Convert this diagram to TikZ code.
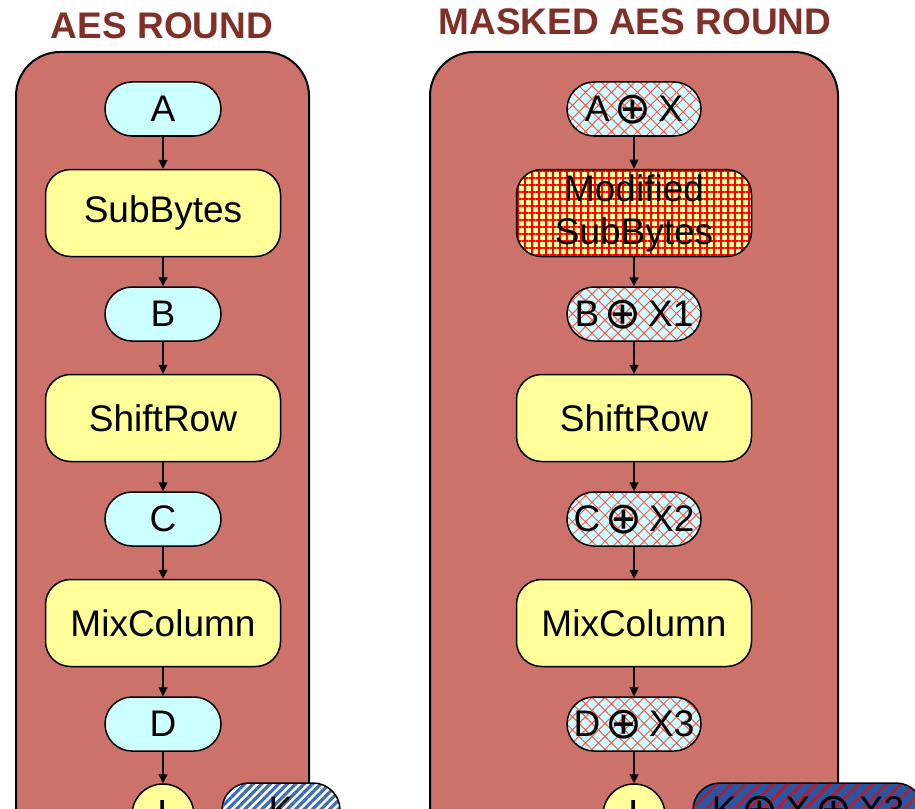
\documentclass[tikz,border=0pt]{standalone}
\usepackage{fontspec}
\setmainfont{Liberation Sans}
\newfontfamily\symfont{DejaVu Sans}
\usetikzlibrary{arrows.meta}
\usetikzlibrary{patterns.meta}

\definecolor{roundred}{RGB}{205,114,107}
\definecolor{titlered}{RGB}{128,48,40}
\definecolor{statecyan}{RGB}{204,255,255}
\definecolor{opyellow}{RGB}{255,255,153}
\definecolor{maskred}{RGB}{255,85,85}
\definecolor{keyblue}{RGB}{60,110,180}
\definecolor{mkeyblue}{RGB}{46,84,158}

% xor sign used inside the masked labels
\newcommand{\xo}{\hspace{2.5pt}\smash{\raisebox{-0.8pt}{\symfont\fontsize{22}{22}\selectfont ⊕}}\hspace{3.5pt}}

\tikzset{
  panel/.style={draw=black, line width=1pt, fill=roundred, rounded corners=22pt},
  heading/.style={font=\fontsize{18.5}{22}\selectfont\bfseries, text=titlered},
  stateov/.style={draw=black, line width=0.75pt, fill=statecyan, rounded corners=13.5pt,
    minimum width=58pt, minimum height=27pt, inner sep=0pt,
    font=\fontsize{18.5}{22}\selectfont},
  mstateov/.style={stateov, minimum width=67pt, preaction={fill=statecyan},
    pattern={Hatch[angle=45,distance=4.6pt,line width=0.5pt]}, pattern color=maskred},
  opbox/.style={draw=black, line width=0.75pt, fill=opyellow, rounded corners=12.5pt,
    minimum width=117.5pt, minimum height=43.5pt, inner sep=0pt, align=center,
    font=\fontsize{18.5}{21.5}\selectfont},
  mopbox/.style={opbox, preaction={fill=opyellow},
    pattern={Hatch[angle=0,distance=3.5pt,line width=0.9pt]}, pattern color=red},
  xorgate/.style={circle, draw=black, line width=0.75pt, fill=opyellow, minimum size=31pt,
    inner sep=0pt, font=\fontsize{26}{26}\selectfont},
  keybox/.style={draw=black, line width=0.75pt, rounded corners=13.5pt, minimum height=27pt,
    inner sep=0pt, font=\fontsize{18.5}{22}\selectfont},
  arr/.style={-{Triangle[length=4.5pt,width=4.5pt]}, line width=0.6pt},
}

\begin{document}
\begin{tikzpicture}[x=0.5pt, y=-0.5pt]
  \useasboundingbox (0,0) rectangle (915,808);
  \clip (0,0) rectangle (915,808);

  % titles
  \node[heading] (t1) at (162,26) {AES ROUND};
  \node[heading] (t2) at (635,22) {MASKED AES ROUND};

  % the two round panels
  \draw[panel] (16,52) rectangle (309,900);
  \draw[panel] (430,52) rectangle (838,900);

  % plain round
  \node[stateov] (a) at (163,109) {A};
  \node[opbox] (sb) at (163,213) {SubBytes};
  \node[stateov] (b) at (163,314) {B};
  \node[opbox] (sr) at (163,418) {ShiftRow};
  \node[stateov] (c) at (163,519) {C};
  \node[opbox] (mc) at (163,623) {MixColumn};
  \node[stateov] (d) at (163,724) {D};
  \node[xorgate] (x) at (163,815) {+};
  \node[keybox, minimum width=59pt, preaction={fill=white},
    pattern={Lines[angle=45,distance=3pt,line width=1.6pt]}, pattern color=keyblue]
    (k) at (281,810) {K};

  \draw[arr] (a) -- (sb);
  \draw[arr] (sb) -- (b);
  \draw[arr] (b) -- (sr);
  \draw[arr] (sr) -- (c);
  \draw[arr] (c) -- (mc);
  \draw[arr] (mc) -- (d);
  \draw[arr] (d) -- (x);
  \draw[arr] (k) -- (x);

  % masked round
  \node[mstateov] (ma) at (634,109) {A\xo X};
  \node[mopbox] (msb) at (634,213) {Modified\\SubBytes};
  \node[mstateov] (mb) at (634,314) {B\xo X1};
  \node[opbox] (msr) at (634,418) {ShiftRow};
  \node[mstateov] (mcc) at (634,519) {C\xo X2};
  \node[opbox] (mmc) at (634,623) {MixColumn};
  \node[mstateov] (md) at (634,724) {D\xo X3};
  \node[xorgate] (mx) at (634,815) {+};
  \node[keybox, minimum width=115pt, preaction={fill=mkeyblue},
    pattern={Lines[angle=45,distance=5pt,line width=0.8pt]}, pattern color=red]
    (mk) at (808,810) {K\xo X\xo X3};

  \draw[arr] (ma) -- (msb);
  \draw[arr] (msb) -- (mb);
  \draw[arr] (mb) -- (msr);
  \draw[arr] (msr) -- (mcc);
  \draw[arr] (mcc) -- (mmc);
  \draw[arr] (mmc) -- (md);
  \draw[arr] (md) -- (mx);
  \draw[arr] (mk) -- (mx);
\end{tikzpicture}
\end{document}
